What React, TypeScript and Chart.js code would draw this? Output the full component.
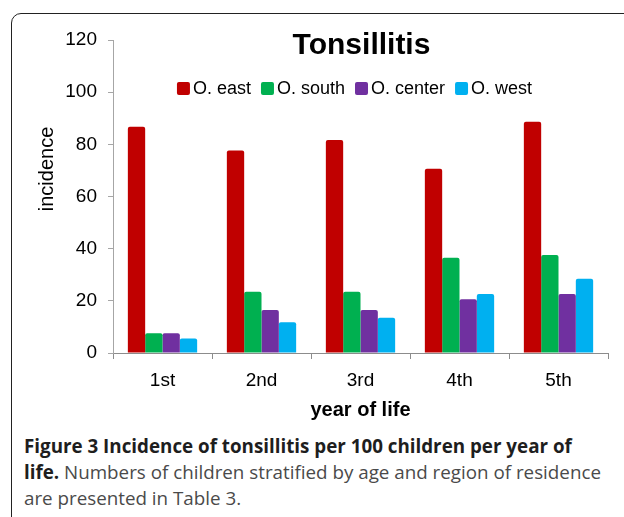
import React, { useEffect, useRef } from 'react';
import { Chart, registerables } from 'chart.js';

Chart.register(...registerables);

const categories = ['1st', '2nd', '3rd', '4th', '5th'];
const seriesNames = ['O. east', 'O. south', 'O. center', 'O. west'];
const eastValues = [86.7, 77.6, 81.7, 70.6, 88.7];
const southValues = [7.6, 23.5, 23.5, 36.5, 37.6];
const centerValues = [7.6, 16.5, 16.5, 20.6, 22.6];
const westValues = [5.6, 11.8, 13.5, 22.6, 28.5];
const seriesColors = ['#C00000', '#00B050', '#7030A0', '#00B0F0'];
const yMin = 0;
const yMax = 120;
const yStep = 20;
const chartTitle = 'Tonsillitis';
const xAxisTitle = 'year of life';
const yAxisTitle = 'incidence';
const captionLines = [
  { bold: 'Figure 3 Incidence of tonsillitis per 100 children per year of', rest: '' },
  { bold: 'life.', rest: ' Numbers of children stratified by age and region of residence' },
  { bold: '', rest: 'are presented in Table 3.' },
];

const FONT = '"Liberation Sans", Arial, Helvetica, sans-serif';

const overlayPlugin = {
  id: 'titleLegendOverlay',
  afterDraw(chart: any) {
    const { ctx, chartArea } = chart;
    const cx = (chartArea.left + chartArea.right) / 2;
    ctx.save();
    // chart title
    ctx.fillStyle = '#000';
    ctx.font = `bold 30px ${FONT}`;
    ctx.textAlign = 'center';
    ctx.textBaseline = 'middle';
    ctx.fillText(chartTitle, cx + 1, chartArea.top + 6);
    // y axis title
    ctx.save();
    ctx.translate(chartArea.left - 66, chartArea.top + 129);
    ctx.rotate(-Math.PI / 2);
    ctx.font = `20px ${FONT}`;
    ctx.fillText(yAxisTitle, 0, 0);
    ctx.restore();
    // legend
    ctx.font = `18px ${FONT}`;
    const box = 13;
    const gap = 3;
    const spacing = 10;
    const dsets = chart.data.datasets;
    const widths = dsets.map((d: any) => ctx.measureText(d.label).width);
    const total =
      widths.reduce((a: number, w: number) => a + box + gap + w, 0) + spacing * (dsets.length - 1);
    let x = cx - 6 - total / 2;
    const y = chartArea.top + 48.5;
    ctx.textAlign = 'left';
    dsets.forEach((d: any, i: number) => {
      ctx.fillStyle = d.backgroundColor;
      ctx.beginPath();
      if ((ctx as any).roundRect) {
        (ctx as any).roundRect(x, y - box / 2, box, box, 2);
      } else {
        ctx.rect(x, y - box / 2, box, box);
      }
      ctx.fill();
      ctx.fillStyle = '#000';
      ctx.fillText(d.label, x + box + gap, y + 1);
      x += box + gap + widths[i] + spacing;
    });
    ctx.restore();
  },
};

export default function App() {
  const canvasRef = useRef<HTMLCanvasElement | null>(null);

  useEffect(() => {
    if (!canvasRef.current) return;
    const seriesValues = [eastValues, southValues, centerValues, westValues];
    const chart = new Chart(canvasRef.current, {
      type: 'bar',
      data: {
        labels: categories,
        datasets: seriesNames.map((name, i) => ({
          label: name,
          data: seriesValues[i],
          backgroundColor: seriesColors[i],
          borderWidth: 0,
          borderRadius: { topLeft: 2, topRight: 2, bottomLeft: 0, bottomRight: 0 },
          borderSkipped: 'start',
          categoryPercentage: 0.7,
          barPercentage: 1.0,
        })),
      },
      options: {
        responsive: false,
        animation: false,
        devicePixelRatio: 1,
        layout: { padding: { left: 35, right: 16, top: 40, bottom: 8 } },
        plugins: {
          legend: { display: false },
          title: { display: false },
          tooltip: { enabled: false },
        },
        scales: {
          x: {
            offset: true,
            grid: {
              display: true,
              offset: true,
              drawOnChartArea: false,
              drawTicks: true,
              tickLength: 6,
              color: '#8c8c8c',
            },
            border: { display: true, color: '#8c8c8c', width: 1 },
            ticks: {
              color: '#000',
              font: { family: FONT, size: 19 },
              padding: 10,
            },
            title: {
              display: true,
              text: xAxisTitle,
              color: '#000',
              font: { family: FONT, size: 20, weight: 'bold' },
              padding: { top: 0, bottom: 0 },
            },
            afterFit: (scale: any) => {
              scale.height = 69;
            },
          },
          y: {
            min: yMin,
            max: yMax,
            ticks: {
              stepSize: yStep,
              color: '#000',
              font: { family: FONT, size: 19 },
              padding: 11,
            },
            grid: {
              display: true,
              drawOnChartArea: false,
              drawTicks: true,
              tickLength: 5,
              color: '#a6a6a6',
            },
            border: { display: true, color: '#a6a6a6', width: 1 },
            title: { display: false },
            afterFit: (scale: any) => {
              scale.width = 78;
            },
          },
        },
      },
      plugins: [overlayPlugin],
    } as any);
    return () => chart.destroy();
  }, []);

  return (
    <div
      style={{
        position: 'fixed',
        left: 0,
        top: 0,
        width: 624,
        height: 517,
        overflow: 'hidden',
        background: '#fff',
      }}
    >
      <div
        style={{
          position: 'absolute',
          left: 11,
          top: 13,
          width: 700,
          height: 700,
          border: '1.5px solid #222',
          borderTopLeftRadius: 10,
          boxSizing: 'border-box',
        }}
      />
      <canvas
        ref={canvasRef}
        width={624}
        height={430}
        style={{ position: 'absolute', left: 0, top: 0, width: 624, height: 430 }}
      />
      <div
        style={{
          position: 'absolute',
          left: 24,
          top: 433,
          width: 600,
          fontFamily: '"Open Sans", sans-serif',
          fontSize: 18.8,
          lineHeight: '26px',
          color: '#4a4a4a',
          whiteSpace: 'nowrap',
        }}
      >
        {captionLines.map((line, i) => (
          <div key={i}>
            {line.bold && <span style={{ fontWeight: 700, color: '#1e1e1e' }}>{line.bold}</span>}
            {line.rest}
          </div>
        ))}
      </div>
    </div>
  );
}
